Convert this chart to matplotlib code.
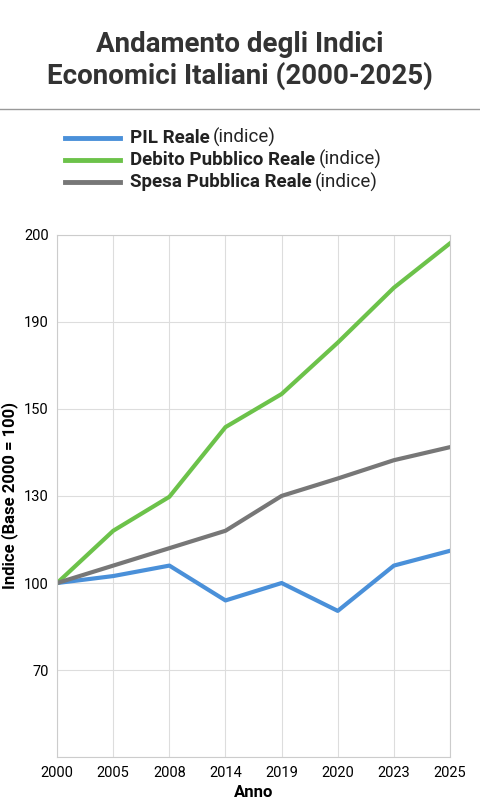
import matplotlib
matplotlib.use("Agg")
import matplotlib.pyplot as plt

plt.rcParams["font.family"] = ["Roboto", "DejaVu Sans"]

years = ["2000", "2005", "2008", "2014", "2019", "2020", "2023", "2025"]
y_labels = ["", "70", "100", "130", "150", "190", "200"]
# values in tick-position units (axis labels are not linearly spaced)
pil = [2.0, 2.08, 2.2, 1.8, 2.0, 1.68, 2.2, 2.37]
debito = [2.0, 2.6, 2.99, 3.79, 4.17, 4.76, 5.39, 5.9]
spesa = [2.0, 2.2, 2.4, 2.6, 3.0, 3.2, 3.41, 3.56]

fig = plt.figure(figsize=(4.8, 8.09), dpi=100)
fig.patch.set_facecolor("white")
fig.text(0.5, 0.925, "Andamento degli Indici\nEconomici Italiani (2000-2025)",
         ha="center", va="center", fontsize=20, fontweight="bold", color="#333333",
         linespacing=1.15)
fig.add_artist(plt.Line2D([0, 1], [0.865, 0.865], color="#999999", lw=1))

ax = fig.add_axes([0.119, 0.064, 0.8185, 0.646])
x = range(len(years))
ax.plot(x, pil, color="#4a90d9", lw=3, label="PIL Reale")
ax.plot(x, debito, color="#6cc24a", lw=3, label="Debito Pubblico Reale")
ax.plot(x, spesa, color="#777777", lw=3, label="Spesa Pubblica Reale")
ax.set_xlim(0, len(years) - 1)
ax.set_ylim(0, 6)
ax.set_xticks(list(x))
ax.set_xticklabels(years, fontsize=10.5)
ax.set_yticks(range(7))
ax.set_yticklabels(y_labels, fontsize=10.5)
ax.grid(True, color="#dddddd", lw=0.8)
for s in ax.spines.values():
    s.set_color("#cccccc")
ax.tick_params(length=0, pad=6)
ax.set_xlabel("Anno", fontsize=12, fontweight="bold")
ax.set_ylabel("Indice (Base 2000 = 100)", fontsize=12, fontweight="bold")

handles = ax.get_lines()
labels = ["PIL Reale", "Debito Pubblico Reale", "Spesa Pubblica Reale"]
for i, (h, lab) in enumerate(zip(handles, labels)):
    yy = 0.83 - i * 0.0275
    fig.add_artist(plt.Line2D([0.135, 0.25], [yy, yy], color=h.get_color(), lw=3.5))
    t = fig.text(0.27, yy, lab, fontsize=13.5, fontweight="bold", va="center", color="#222222")
    fig.canvas.draw()
    bb = t.get_window_extent().transformed(fig.transFigure.inverted())
    fig.text(bb.x1 + 0.008, yy, "(indice)", fontsize=13.5, va="center", color="#222222")

fig.savefig("out.png", dpi=100)
